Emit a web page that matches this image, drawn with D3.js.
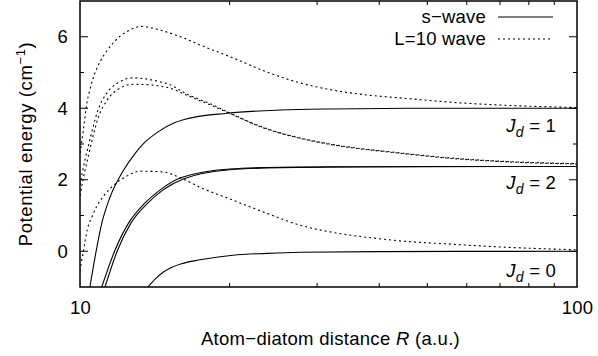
<!DOCTYPE html>
<html><head><meta charset="utf-8">
<script src="https://cdn.jsdelivr.net/npm/d3@7"></script>
<style>
html,body{margin:0;padding:0;background:#fff;}
text{font-family:"Liberation Sans",Arial,Helvetica,sans-serif;fill:#000;}
</style></head>
<body><svg id="c" width="598" height="356"></svg>
<script>
// ---- data ----
const xDomain = [10, 100];
const yDomain = [-1, 7];
const xTickLabels = [10, 100];
const xMinorTicks = [20, 30, 40, 50, 60, 70, 80, 90];
const yTickLabels = [0, 2, 4, 6];
const yMinorTicks = [1, 3, 5];

// L=10 wave (dotted)
const lJ1_R = [10.0, 10.08, 10.16, 10.31, 10.47, 10.62, 10.80, 10.97, 11.32, 11.85, 12.41, 13.3, 14.36, 16.0, 17.44, 20.3, 23.8, 27.7, 32.2, 37.8, 44.1, 55.5, 70, 100];
const lJ1_E = [2.75, 3.05, 3.4, 4.1, 4.52, 4.83, 5.1, 5.3, 5.6, 5.93, 6.14, 6.29, 6.2, 5.99, 5.77, 5.41, 5.01, 4.71, 4.51, 4.37, 4.29, 4.17, 4.09, 4.02];
const lJ2a_R = [10.0, 10.23, 10.38, 10.62, 10.87, 11.33, 11.92, 12.79, 13.96, 15.53, 16.0, 18.53, 20.0, 23.3, 27.3, 31.8, 44.1, 55.5, 70, 100];
const lJ2a_E = [1.85, 2.55, 2.91, 3.47, 3.95, 4.43, 4.71, 4.85, 4.79, 4.59, 4.48, 4.09, 3.87, 3.47, 3.19, 3.0, 2.75, 2.61, 2.52, 2.45];
const lJ2b_R = [10.0, 10.23, 10.38, 10.62, 10.87, 11.33, 11.92, 12.79, 13.96, 15.53, 16.0, 18.53, 20.0, 23.3, 27.3, 31.8, 44.1, 55.5, 70, 100];
const lJ2b_E = [1.55, 2.25, 2.62, 3.22, 3.72, 4.22, 4.53, 4.67, 4.65, 4.51, 4.43, 4.06, 3.86, 3.46, 3.18, 2.99, 2.74, 2.60, 2.51, 2.44];
const lJ0_R = [10.0, 10.05, 10.13, 10.23, 10.34, 10.56, 10.80, 11.12, 11.65, 12.41, 13.2, 14.63, 16.0, 17.44, 20.3, 23.8, 27.7, 32.2, 37.8, 44.1, 55.5, 70, 100];
const lJ0_E = [-0.55, -0.35, -0.1, 0.25, 0.6, 0.95, 1.25, 1.52, 1.83, 2.1, 2.24, 2.22, 2.04, 1.79, 1.43, 1.06, 0.73, 0.53, 0.39, 0.29, 0.20, 0.12, 0.04];

// s-wave (solid)
const sJ1_R = [10.47, 10.72, 11.06, 11.49, 12.13, 12.91, 13.51, 14.36, 15.53, 16.26, 19.77, 25.3, 31.8, 50, 100];
const sJ1_E = [-1.0, -0.17, 0.78, 1.51, 2.18, 2.74, 3.05, 3.34, 3.60, 3.69, 3.86, 3.95, 3.98, 4.0, 4.0];
const sJ2a_R = [11.06, 11.76, 12.51, 13.51, 14.48, 16.0, 20.0, 25.3, 32, 50, 100];
const sJ2a_E = [-1.0, 0.03, 0.78, 1.35, 1.71, 2.06, 2.30, 2.35, 2.36, 2.37, 2.37];
const sJ2b_R = [11.23, 11.9, 12.65, 13.67, 14.68, 16.13, 20.0, 25.3, 32, 50, 100];
const sJ2b_E = [-1.0, 0.03, 0.78, 1.34, 1.71, 2.02, 2.28, 2.34, 2.355, 2.365, 2.37];
const sJ0_R = [13.70, 14.16, 14.63, 15.31, 16.0, 17.44, 20.3, 23.8, 27.7, 40, 100];
const sJ0_E = [-1.0, -0.78, -0.61, -0.45, -0.35, -0.24, -0.11, -0.06, -0.03, -0.01, 0.0];

const solidSeries = [[sJ1_R, sJ1_E], [sJ2a_R, sJ2a_E], [sJ2b_R, sJ2b_E], [sJ0_R, sJ0_E]];
const dottedSeries = [[lJ1_R, lJ1_E], [lJ2a_R, lJ2a_E], [lJ2b_R, lJ2b_E], [lJ0_R, lJ0_E]];
const legendLabels = ["s\u2212wave", "L=10 wave"];
const levelLabels = ["1", "2", "0"];

// ---- layout ----
const L = 80, R = 577, T = 1, B = 287;
const FS = 18.5, LS = 0.2;
const svg = d3.select("#c");
svg.append("rect").attr("width", 598).attr("height", 356).attr("fill", "#fff");
const x = d3.scaleLog().domain(xDomain).range([L, R]);
const y = d3.scaleLinear().domain(yDomain).range([B, T]);

svg.append("clipPath").attr("id", "clip").append("rect")
  .attr("x", L).attr("y", T).attr("width", R - L).attr("height", B - T);

const line = d3.line().x(d => x(d[0])).y(d => y(d[1])).curve(d3.curveMonotoneX);
const g = svg.append("g").attr("clip-path", "url(#clip)");
solidSeries.forEach(([rs, es]) => {
  g.append("path").datum(rs.map((r, i) => [r, es[i]])).attr("d", line)
    .attr("fill", "none").attr("stroke", "#000").attr("stroke-width", 1.1);
});
dottedSeries.forEach(([rs, es]) => {
  g.append("path").datum(rs.map((r, i) => [r, es[i]])).attr("d", line)
    .attr("fill", "none").attr("stroke", "#000").attr("stroke-width", 1.1)
    .attr("stroke-dasharray", "2,3");
});

// ticks (inward, both sides)
const tk = svg.append("g").attr("stroke", "#000").attr("stroke-width", 1);
yTickLabels.forEach(v => {
  tk.append("line").attr("x1", L).attr("x2", L + 8).attr("y1", y(v)).attr("y2", y(v));
  tk.append("line").attr("x1", R - 8).attr("x2", R).attr("y1", y(v)).attr("y2", y(v));
});
yMinorTicks.forEach(v => {
  tk.append("line").attr("x1", L).attr("x2", L + 4).attr("y1", y(v)).attr("y2", y(v));
  tk.append("line").attr("x1", R - 4).attr("x2", R).attr("y1", y(v)).attr("y2", y(v));
});
xMinorTicks.forEach(v => {
  tk.append("line").attr("x1", x(v)).attr("x2", x(v)).attr("y1", B).attr("y2", B - 4);
  tk.append("line").attr("x1", x(v)).attr("x2", x(v)).attr("y1", T).attr("y2", T + 4);
});

// frame
svg.append("rect").attr("x", L).attr("y", T).attr("width", R - L).attr("height", B - T)
  .attr("fill", "none").attr("stroke", "#000").attr("stroke-width", 1.5);

// tick labels
yTickLabels.forEach(v => {
  svg.append("text").attr("x", 68).attr("y", y(v)).attr("dy", "0.35em")
    .attr("text-anchor", "end").attr("font-size", FS).attr("letter-spacing", LS).text(v);
});
xTickLabels.forEach(v => {
  svg.append("text").attr("x", x(v) + 0.5).attr("y", 314).attr("text-anchor", "middle")
    .attr("font-size", FS).attr("letter-spacing", LS).text(v);
});

// axis titles
const xt = svg.append("text").attr("x", (L + R) / 2 + 2).attr("y", 345).attr("text-anchor", "middle")
  .attr("font-size", FS).attr("letter-spacing", 0.3);
xt.append("tspan").text("Atom\u2212diatom distance ");
xt.append("tspan").attr("font-style", "italic").text("R");
xt.append("tspan").text(" (a.u.)");

const yt = svg.append("text").attr("transform", `translate(32,${(T + B) / 2}) rotate(-90)`)
  .attr("text-anchor", "middle").attr("font-size", FS).attr("letter-spacing", 0.6);
yt.append("tspan").text("Potential energy (cm");
yt.append("tspan").attr("font-size", 13).attr("dy", -7).text("\u22121");
yt.append("tspan").attr("dy", 7).text(")");

// legend
legendLabels.forEach((lab, i) => {
  const ly = 17 + i * 22;
  svg.append("text").attr("x", 486).attr("y", ly + 6).attr("text-anchor", "end")
    .attr("font-size", FS).attr("letter-spacing", LS).text(lab);
  const ln = svg.append("line").attr("x1", 498).attr("x2", 553).attr("y1", ly).attr("y2", ly)
    .attr("stroke", "#000").attr("stroke-width", 1.1);
  if (i === 1) ln.attr("stroke-dasharray", "2,3");
});

// level labels
const lvlY = [132, 189, 277];
levelLabels.forEach((j, i) => {
  const t = svg.append("text").attr("x", 556).attr("y", lvlY[i]).attr("text-anchor", "end")
    .attr("font-size", FS).attr("letter-spacing", LS);
  t.append("tspan").attr("font-style", "italic").text("J");
  t.append("tspan").attr("font-style", "italic").attr("font-size", 14).attr("dy", 5).text("d");
  t.append("tspan").attr("dy", -5).text(" = " + j);
});
</script></body></html>
